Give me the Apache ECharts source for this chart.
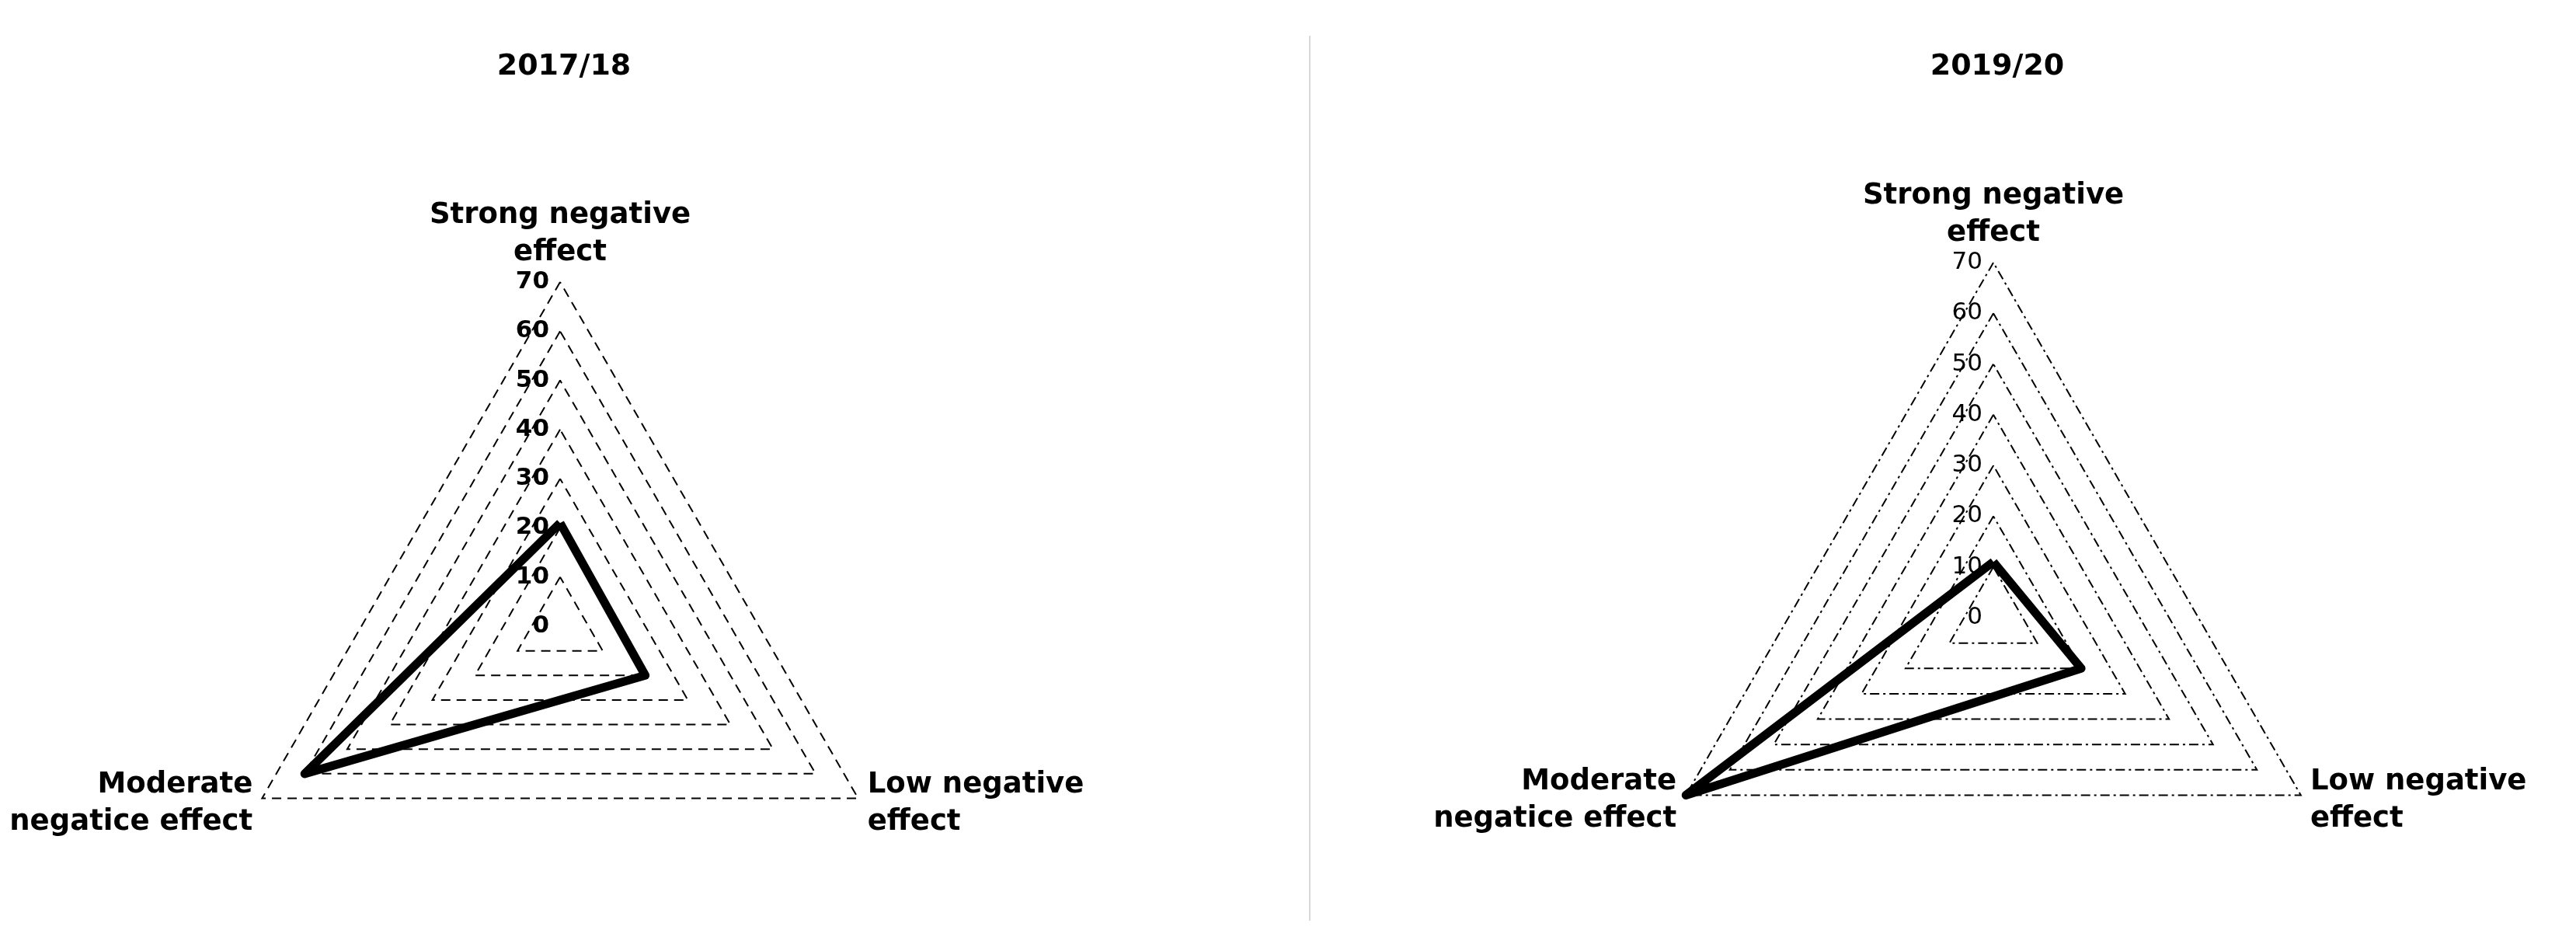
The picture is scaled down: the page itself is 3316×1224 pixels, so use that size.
<!DOCTYPE html>
<html><head><meta charset="utf-8">
<script src="https://cdn.jsdelivr.net/npm/echarts@6/dist/echarts.min.js"></script>
<style>html,body{margin:0;background:#fff}#c{width:3316px;height:1224px}</style>
</head><body><div id="c"></div>
<script>
const indicators = ['Strong negative\neffect', 'Moderate\nnegatice effect', 'Low negative\neffect'];
const titles = ['2017/18', '2019/20'];
const values1718 = [21, 60, 20];
const values1920 = [11, 70, 20];
const tickMax = 70, tickStep = 10;

const F = 'DejaVu Sans';
const charts = [
  {title: titles[0], vals: values1718, cx: 721, cy: 806, r: 443, dash: [12, 8], bold: 'bold'},
  {title: titles[1], vals: values1920, cx: 2566, cy: 795, r: 457, dash: [12, 5, 3, 5], bold: 'normal'}
];
const chart = echarts.init(document.getElementById('c'));
const opt = {
  backgroundColor: '#fff', animation: false,
  title: charts.map(c => ({text: c.title, left: c.cx, top: 62, textAlign: 'center',
    textStyle: {fontFamily: F, fontSize: 38, fontWeight: 'bold', color: '#000'}})),
  radar: charts.map(c => ({
    center: [c.cx, c.cy], radius: c.r, shape: 'polygon', startAngle: 90,
    splitNumber: tickMax / tickStep,
    indicator: indicators.map(n => ({name: n, min: 0, max: tickMax})),
    axisName: {fontFamily: F, fontSize: 37, fontWeight: 'bold', color: '#000', lineHeight: 48},
    nameGap: 14,
    axisLine: {show: false}, axisTick: {show: false}, axisLabel: {show: false},
    splitArea: {show: false},
    splitLine: {lineStyle: {color: '#000', width: 2, type: c.dash}}
  })),
  grid: charts.map(c => ({left: c.cx, top: c.cy - c.r, width: 1, height: c.r})),
  xAxis: charts.map((c, i) => ({type: 'value', gridIndex: i, show: false})),
  yAxis: charts.map((c, i) => ({type: 'value', gridIndex: i, min: 0, max: tickMax, interval: tickStep,
    axisLine: {show: false}, axisTick: {show: false}, splitLine: {show: false},
    axisLabel: {margin: 14, fontFamily: F, fontSize: 31, fontWeight: c.bold, color: '#000'}})),
  series: charts.map((c, i) => ({type: 'radar', radarIndex: i, symbol: 'none',
    lineStyle: {color: '#000', width: 11, join: 'round'},
    data: [{value: c.vals}]})),
  graphic: [{type: 'line', shape: {x1: 1686, y1: 46, x2: 1686, y2: 1185},
    style: {stroke: '#d9d9d9', lineWidth: 2}}]
};
chart.setOption(opt);
</script></body></html>
